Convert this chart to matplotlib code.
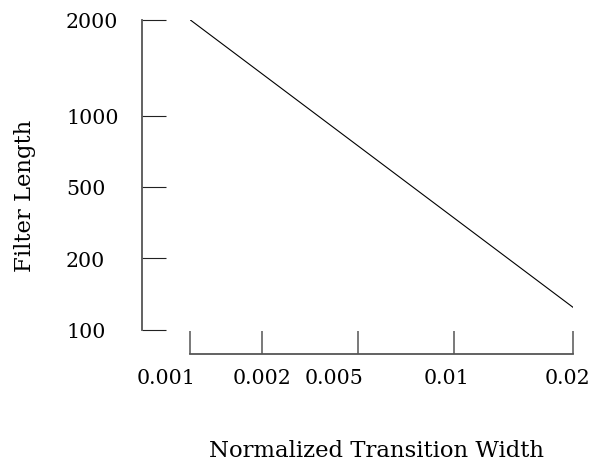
import numpy as np
import matplotlib
matplotlib.use("Agg")
import matplotlib.pyplot as plt
from matplotlib.transforms import ScaledTranslation

# -- data: filter length against normalized transition width
width  = [0.001, 0.02]
length = [2000, 124]

# -- tick values and their labels
x_ticks  = [0.001, 0.002, 0.005, 0.01, 0.02]
x_labels = ["0.001", "0.002", "0.005", "0.01", "0.02"]
y_ticks  = [100, 200, 500, 1000, 2000]
y_labels = ["100", "200", "500", "1000", "2000"]

# -- where each tick sits along its axis (pixels from the axis origin)
x_place = [0.0, 71.7, 167.7, 264.0, 383.3]
y_place = [0.0, 71.4, 143.0, 214.0, 310.0]
# -- sideways nudge of the x tick labels (pixels)
x_nudge = [-24, 0, -24, -7.5, -6]


def make_scale(ticks, place):
    lt = np.log10(ticks)

    def fwd(v):
        v = np.clip(np.asarray(v, dtype=float), 1e-12, None)
        return np.interp(np.log10(v), lt, place)

    def inv(p):
        return 10.0 ** np.interp(p, place, lt)

    return fwd, inv


plt.rcParams["font.family"] = "DejaVu Serif"
plt.rcParams["font.size"] = 14.8

dpi = 100
fig = plt.figure(figsize=(5.9, 4.64), dpi=dpi, facecolor="w")
ax = fig.add_axes([190 / 590., 1 - 330.7 / 464., 383.3 / 590., 310 / 464.])

ax.set_xscale("function", functions=make_scale(x_ticks, x_place))
ax.set_yscale("function", functions=make_scale(y_ticks, y_place))
ax.set_xlim(x_ticks[0], x_ticks[-1])
ax.set_ylim(y_ticks[0], y_ticks[-1])

ax.plot(width, length, color="k", lw=0.8)

# -- detached axes
for side in ["top", "right"]:
    ax.spines[side].set_visible(False)
ax.spines["left"].set_position(("outward", 48 * 0.72))
ax.spines["bottom"].set_position(("outward", 23.8 * 0.72))
for side in ["left", "bottom"]:
    ax.spines[side].set_color("#555555")
    ax.spines[side].set_linewidth(1.3)

ax.set_xticks(x_ticks)
ax.set_xticklabels(x_labels)
ax.set_yticks(y_ticks)
ax.set_yticklabels(y_labels, ha="left")
ax.minorticks_off()

ax.tick_params(axis="y", direction="in", length=17.3, width=0.8,
               color="#222222", pad=76 * 0.72)
ax.tick_params(axis="x", direction="in", length=16.3, width=1.1,
               color="#555555", pad=10.5)

for tick, dx in zip(ax.xaxis.get_major_ticks(), x_nudge):
    lab = tick.label1
    lab.set_transform(lab.get_transform() +
                      ScaledTranslation(dx / dpi, 0, fig.dpi_scale_trans))

fig.text(25 / 590., 1 - 196 / 464., "Filter Length", rotation=90,
         ha="center", va="center", size=16.4)
fig.text(376.5 / 590., 1 - 451 / 464., "Normalized Transition Width",
         ha="center", va="center", size=16.4)

fig.savefig("out.png", dpi=dpi, facecolor="w")
